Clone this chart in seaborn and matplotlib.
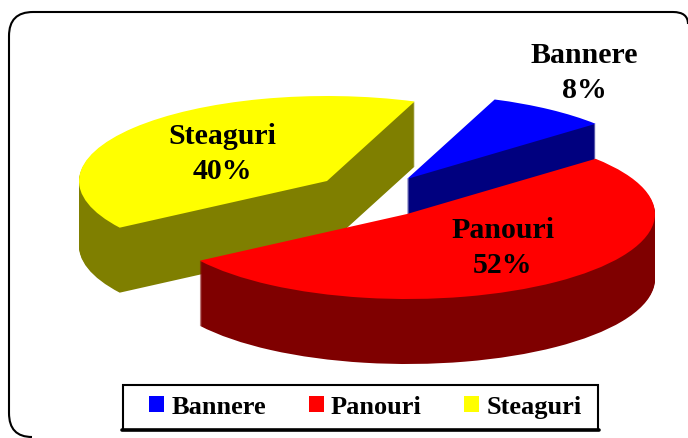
import matplotlib
matplotlib.use('Agg')
import matplotlib.pyplot as plt
import seaborn as sns
from matplotlib.lines import Line2D
from matplotlib.patches import Patch, PathPatch, Rectangle
from matplotlib.path import Path
from matplotlib.transforms import IdentityTransform

categories = ['Bannere', 'Panouri', 'Steaguri']
shares = [8, 52, 40]

sns.set_style('white')
plt.rcParams['font.family'] = ['Liberation Serif', 'DejaVu Serif']
plt.rcParams['font.weight'] = 'bold'

top_colors = sns.color_palette(['#0000ff', '#ff0000', '#ffff00'])
side_colors = sns.color_palette(['#00007f', '#7f0000', '#7f7f00'])

W, H = 688, 439
# ellipse of the pie, in pixels
RX, RY = 248, 85
CX, CY = 407, 215

# per slice: shift of the top face in pixels, wall height, draw order
shift_px = [(0, -35), (0, 0), (-80, -33)]
wall_px = [37, 65, 65]
order = [2, 3, 1]

fig = plt.figure(figsize=(W / 100, H / 100), dpi=100)
ax = fig.add_axes([0, 0, 1, 1])

for i in range(len(shares)):
    sx, sy = shift_px[i]
    # walls first, one pixel at a time, then the top face
    for d in range(wall_px[i], -1, -1):
        color = top_colors[i] if d == 0 else side_colors[i]
        wedges, _ = ax.pie(shares, startangle=69.3, counterclock=False,
                           colors=[color] * len(shares), radius=1)
        for j, w in enumerate(wedges):
            if j == i:
                w.set_center((sx / RX, -(sy + d) / RY))
                w.set_zorder(order[i] + (wall_px[i] - d) * 0.001)
                w.set_linewidth(0)
            else:
                w.remove()

ax.set_aspect('auto')
ax.set_xlim(-CX / RX, (W - CX) / RX)
ax.set_ylim(-(H - CY) / RY, CY / RY)
ax.axis('off')


def px(x, y):
    return (x - CX) / RX, (CY - y) / RY


label_pos = [(584, 73), (503, 248), (222, 154)]
for cat, val, (x, y) in zip(categories, shares, label_pos):
    tx, ty = px(x, y)
    ax.text(tx, ty, f'{cat}\n{val}%', ha='center', va='center', fontsize=21.5,
            fontweight='bold', color='black', linespacing=1.4, zorder=10)

pixels = IdentityTransform()

# outer rounded frame, only its left part and top edge are inside the picture
frame_pts = [(32, H - 438), (9, H - 438), (9, H - 414), (9, H - 37), (9, H - 13), (33, H - 13),
             (673, H - 13), (688, H - 13), (688, H - 25)]
frame_codes = [Path.MOVETO, Path.CURVE3, Path.CURVE3, Path.LINETO, Path.CURVE3, Path.CURVE3,
               Path.LINETO, Path.CURVE3, Path.CURVE3]
fig.add_artist(PathPatch(Path(frame_pts, frame_codes), facecolor='none', edgecolor='black',
                         linewidth=1.5, transform=pixels))

# legend box, bottom line heavier like the original
fig.add_artist(Rectangle((123, H - 431), 475, 45, facecolor='white', edgecolor='black',
                         linewidth=1.5, transform=pixels, zorder=5))
fig.add_artist(Line2D([122, 599], [H - 431, H - 431], color='black', linewidth=2.6,
                      transform=pixels, zorder=6))

handles = [Patch(facecolor=c, edgecolor='none') for c in top_colors]
leg = fig.legend(handles, categories, ncol=3, loc='center left',
                 bbox_to_anchor=(149 / W, 1 - 408 / H),
                 borderaxespad=0, borderpad=0, frameon=False, fontsize=19,
                 labelcolor='black', handlelength=0.57, handleheight=0.57,
                 handletextpad=0.27, columnspacing=1.62)
leg.set_zorder(7)

fig.savefig('out.png', dpi=100)
